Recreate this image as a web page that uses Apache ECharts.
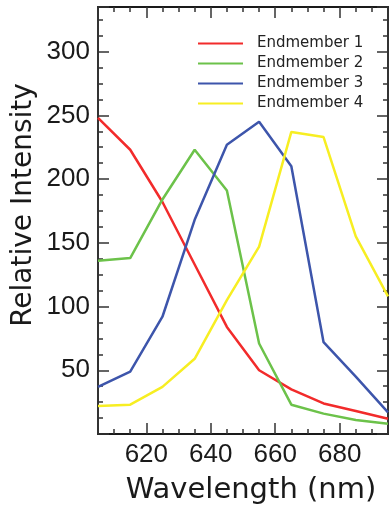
<!DOCTYPE html>
<html>
<head>
<meta charset="utf-8">
<script src="https://cdn.jsdelivr.net/npm/echarts@6/dist/echarts.min.js"></script>
<style>html,body{margin:0;padding:0;background:#fff}#root{width:391px;height:510px}</style>
</head>
<body>
<div id="root"></div>
<script>
const wavelengths = [605, 615, 625, 635, 645, 655, 665, 675, 685, 695];
const endmember1 = [248, 223, 182, 133, 84, 50, 35, 24, 18, 12];
const endmember2 = [136, 138, 184, 223, 191, 71, 23, 16, 11, 8];
const endmember3 = [37, 49, 92, 168, 227, 245, 210, 72, 45, 17];
const endmember4 = [22, 23, 37, 59, 105, 147, 237, 233, 155, 108];
const seriesNames = ['Endmember 1', 'Endmember 2', 'Endmember 3', 'Endmember 4'];
const seriesColors = ['#f22b2b', '#6cc24a', '#3d55ab', '#f7ee22'];
const xTickLabels = [620, 640, 660, 680];
const yTickLabels = [50, 100, 150, 200, 250, 300];

let root = document.getElementById('root');
let myChart = echarts.init(root);

const tickFont = { fontFamily: 'Liberation Sans', fontSize: 26, color: '#1a1a1a' };

// box frame: same scale on both sides, ticks pointing in
function xAxisCfg(position, showLabel) {
  return {
    type: 'value', position: position,
    min: 605, max: 695, splitNumber: 4,
    axisLine: { show: true, onZero: false, lineStyle: { color: '#1a1a1a', width: 2 } },
    axisTick: { show: true, inside: true, length: 11, lineStyle: { color: '#333', width: 1.5 } },
    minorTick: { show: true, splitNumber: 4, length: 5, lineStyle: { color: '#333', width: 1.5 } },
    splitLine: { show: false },
    axisLabel: {
      show: showLabel, margin: 8, ...tickFont,
      formatter: v => xTickLabels.includes(v) ? String(v) : ''
    }
  };
}
function yAxisCfg(position, showLabel) {
  return {
    type: 'value', position: position,
    min: 0, max: 335, interval: 50,
    axisLine: { show: true, onZero: false, lineStyle: { color: '#333', width: 2 } },
    axisTick: { show: true, inside: true, length: 11, lineStyle: { color: '#333', width: 1.5 } },
    minorTick: { show: true, splitNumber: 4, length: 5, lineStyle: { color: '#333', width: 1.5 } },
    splitLine: { show: false },
    axisLabel: {
      show: showLabel, margin: 8, ...tickFont,
      formatter: v => yTickLabels.includes(v) ? String(v) : ''
    }
  };
}

const allValues = [endmember1, endmember2, endmember3, endmember4];

let option = {
  animation: false,
  grid: { left: 98, right: -2, top: 7, bottom: 76, containLabel: false },
  xAxis: [xAxisCfg('bottom', true), xAxisCfg('top', false)],
  yAxis: [yAxisCfg('left', true), yAxisCfg('right', false)],
  legend: {
    orient: 'vertical', left: 197, top: 36, padding: 0,
    itemWidth: 45, itemHeight: 14, itemGap: 5,
    itemStyle: { opacity: 0 },
    textStyle: { fontFamily: 'DejaVu Sans', fontSize: 15, color: '#222', padding: [0, 0, 0, 9] },
    data: seriesNames
  },
  graphic: [
    {
      type: 'text', x: 24, y: 205, rotation: Math.PI / 2,
      style: { text: 'Relative Intensity', fontFamily: 'DejaVu Sans', fontSize: 28, fill: '#1a1a1a', align: 'center', verticalAlign: 'middle' }
    },
    {
      type: 'text', x: 251, y: 490,
      style: { text: 'Wavelength (nm)', fontFamily: 'DejaVu Sans', fontSize: 29, fill: '#1a1a1a', align: 'center', verticalAlign: 'middle' }
    }
  ],
  series: seriesNames.map((name, i) => ({
    name: name,
    type: 'line',
    symbol: 'none',
    color: seriesColors[i],
    lineStyle: { width: 2.5, color: seriesColors[i] },
    data: wavelengths.map((w, j) => [w, allValues[i][j]])
  }))
};
myChart.setOption(option);
</script>
</body>
</html>
